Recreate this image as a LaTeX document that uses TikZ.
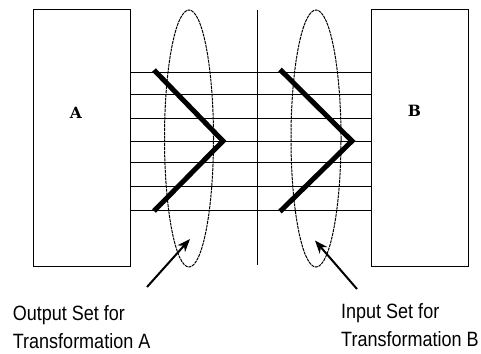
\documentclass[tikz,border=0pt]{standalone}
\usepackage{fontspec}
\newfontfamily\labelfont{Liberation Sans}
\newfontfamily\boxfont{DejaVu Serif}
\usetikzlibrary{arrows.meta,shapes.geometric}
\begin{document}
\begin{tikzpicture}[x=1pt,y=-1pt,
  box/.style={draw=black,line width=1pt,minimum width=97pt,minimum height=256pt,inner sep=0pt},
  boxlabel/.style={inner sep=0pt,font=\boxfont\bfseries\fontsize{15.5}{15.5}\selectfont},
  gridline/.style={line width=1pt},
  setellipse/.style={line width=1pt,dash pattern=on 3pt off 0.8pt},
  chevron/.style={line width=5pt,line join=miter},
  pointer/.style={line width=2pt,-{Stealth[length=13pt,width=10pt,inset=4pt]}},
  caption/.style={anchor=base west,inner sep=0pt,font=\labelfont\fontsize{18}{18}\selectfont}]
\useasboundingbox (0,0) rectangle (481,353);
% boxes
\node[box] (A) at (81.5,138) {};
\node[box] (B) at (420,138) {};
\node[boxlabel] (la) at (76,112.5) {A};
\node[boxlabel] (lb) at (414.5,111) {B};
% horizontal lines
\foreach \i/\y in {1/72,2/94.5,3/118,4/141,5/162.5,6/186,7/210}{
  \coordinate (h\i) at (0,\y);
  \draw[gridline] (A.east |- h\i) -- (B.west |- h\i);
}
% vertical divider
\coordinate (vt) at (257.3,10);
\coordinate (vb) at (257.3,265);
\draw[gridline] (vt) -- (vb);
% ellipses
\node[setellipse,draw,ellipse,inner sep=0pt,minimum width=49pt,minimum height=257pt] (OS) at (189,138.5) {};
\node[setellipse,draw,ellipse,inner sep=0pt,minimum width=50pt,minimum height=257pt] (IS) at (316,138.5) {};
% chevrons
\draw[chevron] (154,70) -- (223,141) -- (154,211);
\draw[chevron] (280,69.5) -- (352,141) -- (280,211.5);
% pointers
\coordinate (ta) at (147,287);
\coordinate (tb) at (357,289);
\coordinate (pa) at (190,239);
\coordinate (pb) at (315,240.5);
\draw[pointer] (ta) -- (pa);
\draw[pointer] (tb) -- (pb);
% captions
\node[caption] (c1) at (12.7,320.7) {\scalebox{1}[1.15]{Output Set for}};
\node[caption] (c2) at (12.7,348.3) {\scalebox{1}[1.15]{Transformation A}};
\node[caption] (c3) at (341,318) {\scalebox{1}[1.15]{Input Set for}};
\node[caption] (c4) at (341,346.7) {\scalebox{1}[1.15]{Transformation B}};
\end{tikzpicture}
\end{document}
